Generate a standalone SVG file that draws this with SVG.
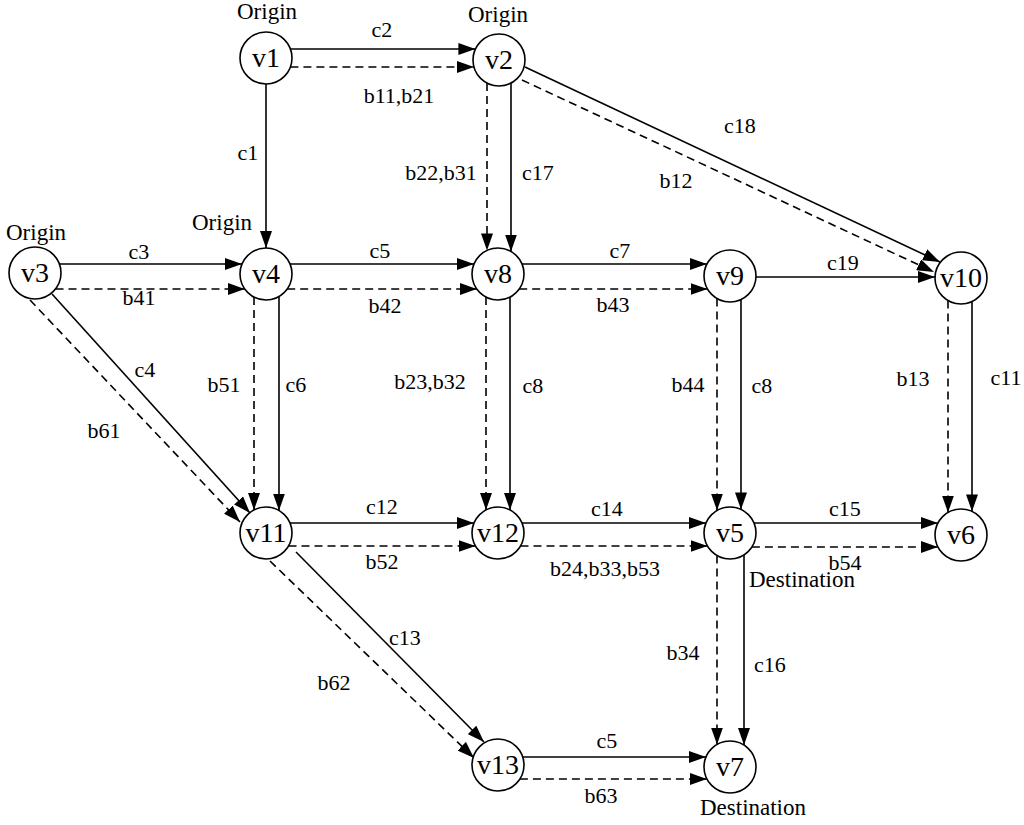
<svg xmlns="http://www.w3.org/2000/svg" width="1024" height="825" viewBox="0 0 1024 825">
<style>
.n{fill:#fff;stroke:#000;stroke-width:1.6}
.nt{font-family:"Liberation Serif","Times New Roman",serif;font-size:28px;text-anchor:middle;fill:#000}
.t{font-family:"Liberation Serif","Times New Roman",serif;font-size:22px;text-anchor:middle;fill:#000}
.o{font-family:"Liberation Serif","Times New Roman",serif;font-size:23px;text-anchor:middle;fill:#000}
.s{stroke:#000;stroke-width:1.6;fill:none;marker-end:url(#a)}
.d{stroke:#000;stroke-width:1.6;fill:none;stroke-dasharray:8,5;marker-end:url(#a)}
</style>
<defs>
<marker id="a" markerUnits="userSpaceOnUse" markerWidth="18" markerHeight="12" refX="17" refY="6" orient="auto">
<path d="M0,0 L17,6 L0,12 z" fill="#000"/>
</marker>
</defs>
<rect width="1024" height="825" fill="#fff"/>
<g id="connectors">
<line class="s" x1="290.4" y1="49" x2="475.4" y2="49"/>
<line class="d" x1="290.4" y1="67" x2="474" y2="67"/>
<line class="s" x1="59.4" y1="264" x2="242" y2="264"/>
<line class="d" x1="55.5" y1="289" x2="244.8" y2="289"/>
<line class="s" x1="290" y1="264" x2="474" y2="264"/>
<line class="d" x1="287.2" y1="289" x2="476.8" y2="289"/>
<line class="s" x1="522" y1="264" x2="706.9" y2="264"/>
<line class="d" x1="519.2" y1="289" x2="707.5" y2="289"/>
<line class="s" x1="756" y1="277" x2="935" y2="277"/>
<line class="s" x1="290" y1="523" x2="474" y2="523"/>
<line class="d" x1="288.5" y1="546" x2="475.5" y2="546"/>
<line class="s" x1="522" y1="523" x2="706" y2="523"/>
<line class="d" x1="520.5" y1="546" x2="707.5" y2="546"/>
<line class="s" x1="754" y1="523" x2="937.9" y2="523"/>
<line class="d" x1="751.9" y1="547" x2="937.9" y2="547"/>
<line class="s" x1="522.7" y1="757" x2="706" y2="757"/>
<line class="d" x1="519.9" y1="779" x2="706.9" y2="779"/>
<line class="s" x1="266" y1="84" x2="266" y2="248"/>
<line class="d" x1="487" y1="83.1" x2="487" y2="250.4"/>
<line class="s" x1="511" y1="83.1" x2="511" y2="251.5"/>
<line class="d" x1="254" y1="297.1" x2="254" y2="509.9"/>
<line class="s" x1="279" y1="296.5" x2="279" y2="510.5"/>
<line class="d" x1="486" y1="297.1" x2="486" y2="509.9"/>
<line class="s" x1="510" y1="297.1" x2="510" y2="509.9"/>
<line class="d" x1="717" y1="298.5" x2="717" y2="510.5"/>
<line class="s" x1="741" y1="299.6" x2="741" y2="509.4"/>
<line class="d" x1="948" y1="300.5" x2="948" y2="512.5"/>
<line class="s" x1="972" y1="301.6" x2="972" y2="511.4"/>
<line class="d" x1="717" y1="555.5" x2="717" y2="744.5"/>
<line class="s" x1="744" y1="554.9" x2="744" y2="745.1"/>
<line class="s" x1="525" y1="67" x2="940" y2="262"/>
<line class="d" x1="522" y1="80" x2="934" y2="272"/>
<line class="s" x1="52" y1="294" x2="250" y2="513"/>
<line class="d" x1="30" y1="300" x2="240" y2="522"/>
<line class="s" x1="296" y1="552" x2="484" y2="742"/>
<line class="d" x1="270" y1="561" x2="474" y2="758"/>
</g>
<g id="edge-labels">
<text class="t" x="382" y="37">c2</text>
<text class="t" x="399" y="103">b11,b21</text>
<text class="t" x="248" y="160">c1</text>
<text class="t" x="441" y="180">b22,b31</text>
<text class="t" x="538" y="180">c17</text>
<text class="t" x="740" y="133">c18</text>
<text class="t" x="676" y="188">b12</text>
<text class="t" x="139" y="259">c3</text>
<text class="t" x="139" y="305">b41</text>
<text class="t" x="380" y="258">c5</text>
<text class="t" x="385" y="313">b42</text>
<text class="t" x="620" y="258">c7</text>
<text class="t" x="613" y="312">b43</text>
<text class="t" x="843" y="270">c19</text>
<text class="t" x="145" y="377">c4</text>
<text class="t" x="104" y="438">b61</text>
<text class="t" x="224" y="392">b51</text>
<text class="t" x="296" y="392">c6</text>
<text class="t" x="430" y="389">b23,b32</text>
<text class="t" x="533" y="393">c8</text>
<text class="t" x="688" y="392">b44</text>
<text class="t" x="762" y="393">c8</text>
<text class="t" x="913" y="386">b13</text>
<text class="t" x="1006" y="385">c11</text>
<text class="t" x="382" y="514">c12</text>
<text class="t" x="382" y="569">b52</text>
<text class="t" x="607" y="516">c14</text>
<text class="t" x="605" y="576">b24,b33,b53</text>
<text class="t" x="845" y="516">c15</text>
<text class="t" x="845" y="570">b54</text>
<text class="t" x="405" y="645">c13</text>
<text class="t" x="334" y="690">b62</text>
<text class="t" x="683" y="660">b34</text>
<text class="t" x="770" y="672">c16</text>
<text class="t" x="607" y="748">c5</text>
<text class="t" x="601" y="803">b63</text>
</g>
<g id="v1"><circle class="n" cx="266" cy="58" r="26"/><text class="nt" x="266" y="67">v1</text><text class="o" x="267" y="19">Origin</text></g>
<g id="v2"><circle class="n" cx="499" cy="60" r="26"/><text class="nt" x="499" y="69">v2</text><text class="o" x="498" y="22">Origin</text></g>
<g id="v3"><circle class="n" cx="35" cy="273" r="26"/><text class="nt" x="35" y="282">v3</text><text class="o" x="36" y="240">Origin</text></g>
<g id="v4"><circle class="n" cx="266" cy="274" r="26"/><text class="nt" x="266" y="283">v4</text><text class="o" x="222" y="230">Origin</text></g>
<g id="v8"><circle class="n" cx="498" cy="274" r="26"/><text class="nt" x="498" y="283">v8</text></g>
<g id="v9"><circle class="n" cx="730" cy="276" r="26"/><text class="nt" x="730" y="285">v9</text></g>
<g id="v10"><circle class="n" cx="961" cy="278" r="26"/><text class="nt" x="961" y="287">v10</text></g>
<g id="v11"><circle class="n" cx="266" cy="533" r="26"/><text class="nt" x="266" y="542">v11</text></g>
<g id="v12"><circle class="n" cx="498" cy="533" r="26"/><text class="nt" x="498" y="542">v12</text></g>
<g id="v5"><circle class="n" cx="730" cy="533" r="26"/><text class="nt" x="730" y="542">v5</text><text class="o" x="802" y="587">Destination</text></g>
<g id="v6"><circle class="n" cx="961" cy="535" r="26"/><text class="nt" x="961" y="544">v6</text></g>
<g id="v13"><circle class="n" cx="498" cy="765" r="26"/><text class="nt" x="498" y="774">v13</text></g>
<g id="v7"><circle class="n" cx="730" cy="767" r="26"/><text class="nt" x="730" y="776">v7</text><text class="o" x="753" y="815">Destination</text></g>
</svg>
